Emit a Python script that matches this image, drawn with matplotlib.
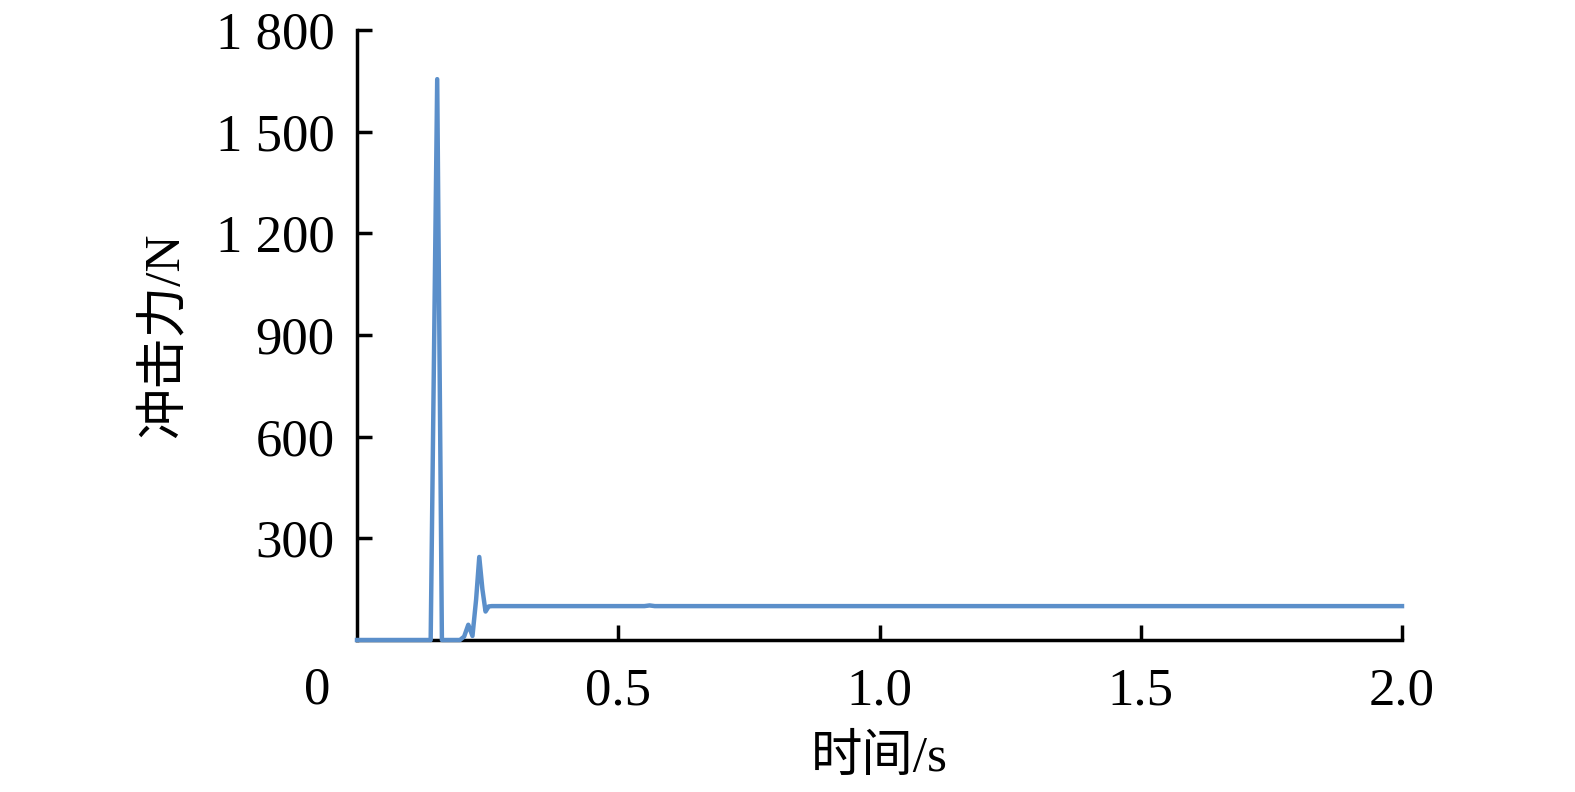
import matplotlib
matplotlib.use("Agg")
import matplotlib.pyplot as plt
from matplotlib.ticker import FixedLocator

plt.rcParams['font.family'] = ['Liberation Serif', 'Noto Sans CJK SC', 'DejaVu Sans']

time_s = [0.0, 0.141, 0.1535, 0.1625, 0.197, 0.205, 0.213, 0.221, 0.228, 0.234,
          0.240, 0.246, 0.252, 0.258, 0.30, 0.55, 0.56, 0.57, 1.0, 1.5, 2.0]
force_n = [0, 0, 1655, 0, 0, 10, 45, 12, 120, 245,
           150, 84, 99, 100, 100, 100, 102, 100, 100, 100, 100]

y_ticks = [300, 600, 900, 1200, 1500, 1800]
y_tick_labels = ['300', '600', '900', '1 200', '1 500', '1 800']
x_ticks = [0.5, 1.0, 1.5, 2.0]
x_tick_labels = ['0.5', '1.0', '1.5', '2.0']
x_label = '时间/s'
y_label = '冲击力/N'

fig = plt.figure(figsize=(15.75, 7.92), dpi=100)
ax = fig.add_axes([357/1575, 1 - 640/792, (1402-357)/1575, (640-30)/792])
ax.plot(time_s, force_n, color='#5B8FCA', lw=3.2, zorder=3, clip_on=False)
ax.set_xlim(0, 2.0)
ax.set_ylim(0, 1800)
for s in ['top', 'right']:
    ax.spines[s].set_visible(False)
for s in ['left', 'bottom']:
    ax.spines[s].set_linewidth(2.5)
    ax.spines[s].set_color('black')
ax.xaxis.set_major_locator(FixedLocator(x_ticks))
ax.set_xticklabels(x_tick_labels)
ax.yaxis.set_major_locator(FixedLocator(y_ticks))
ax.set_yticklabels(y_tick_labels)
ax.tick_params(axis='both', direction='in', length=11, width=2.5, labelsize=38,
               colors='black')
ax.tick_params(axis='x', pad=20)
ax.tick_params(axis='y', pad=16)
ax.text(-0.025, -0.083, '0', transform=ax.transAxes, fontsize=38,
        ha='right', va='center')
ax.set_xlabel(x_label, fontsize=37, labelpad=14)
ax.set_ylabel(y_label, fontsize=37, labelpad=20)
fig.savefig('out.png', dpi=100)
